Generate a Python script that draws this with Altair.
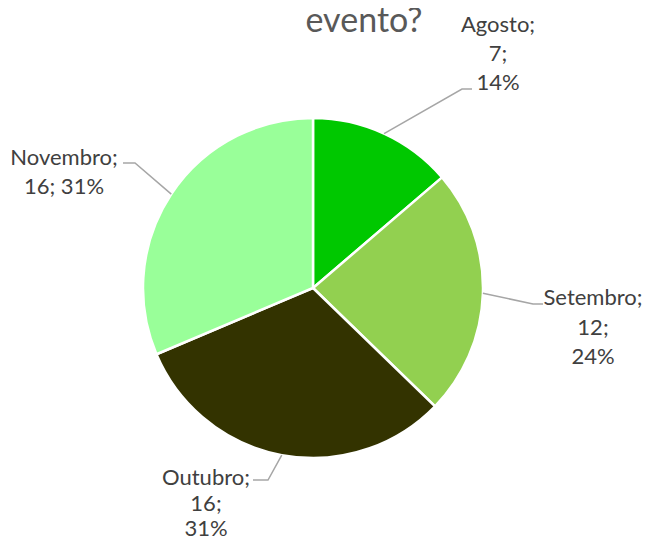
import math
import altair as alt
import pandas as pd

# ---- data ----
meses = ["Agosto", "Setembro", "Outubro", "Novembro"]
valores = [7, 12, 16, 16]
percentuais = [14, 24, 31, 31]
cores = ["#00C800", "#92D050", "#333300", "#99FF99"]
titulo = "evento?"

# ---- layout ----
W, H = 636, 530
CX, CY, R = 305, 280, 170
FONT = "Lato"
# elbow offsets from centre, horizontal tail, label centre offset from tail end, line height
layout = {
    "Agosto":   dict(elbow=(149, -199), tail=10, lab_dx=26, lab_dy=-64, lh=29, wrap=[0, 1, 2]),
    "Setembro": dict(elbow=(220, 16), tail=10, lab_dx=50, lab_dy=-6, lh=29.5, wrap=[0, 1, 2]),
    "Outubro":  dict(elbow=(-45, 192), tail=-15, lab_dx=-47, lab_dy=-2, lh=25.5, wrap=[0, 1, 2]),
    "Novembro": dict(elbow=(-178, -125), tail=-12, lab_dx=-59, lab_dy=-5, lh=29, wrap=[0, 1, 1]),
}

df = pd.DataFrame({"mes": meses, "valor": valores, "pct": percentuais,
                   "ordem": list(range(len(meses)))})

total = sum(valores)
lines_rows, text_rows = [], []
acc = 0
for m, v, p in zip(meses, valores, percentuais):
    mid = (acc + v / 2) / total * 2 * math.pi
    acc += v
    lay = layout[m]
    sx, sy = CX + R * math.sin(mid), CY - R * math.cos(mid)
    ex, ey = CX + lay["elbow"][0], CY + lay["elbow"][1]
    tx, ty = ex + lay["tail"], ey
    for i, (px, py) in enumerate([(sx, sy), (ex, ey), (tx, ty)]):
        lines_rows.append({"mes": m, "k": i, "x": px, "y": py})
    parts = [f"{m};", f"{v};", f"{p}%"]
    groups = {}
    for part, g in zip(parts, lay["wrap"]):
        groups.setdefault(g, []).append(part)
    for j, g in enumerate(sorted(groups)):
        text_rows.append({"mes": m, "txt": " ".join(groups[g]),
                          "x": tx + lay["lab_dx"], "y": ty + lay["lab_dy"] + j * lay["lh"]})

lines_df = pd.DataFrame(lines_rows)
text_df = pd.DataFrame(text_rows)

xs = alt.Scale(domain=[0, W], range=[0, W])
ys = alt.Scale(domain=[0, H], range=[0, H])

pie = alt.Chart(df).mark_arc(outerRadius=R, stroke="white", strokeWidth=2.5).encode(
    theta=alt.Theta("valor:Q", stack=True),
    order=alt.Order("ordem:Q"),
    color=alt.Color("mes:N", scale=alt.Scale(domain=meses, range=cores), legend=None),
    x=alt.value(CX), y=alt.value(CY),
)

leaders = alt.Chart(lines_df).mark_line(color="#A6A6A6", strokeWidth=1.5).encode(
    x=alt.X("x:Q", scale=xs, axis=None),
    y=alt.Y("y:Q", scale=ys, axis=None),
    detail="mes:N",
    order="k:Q",
)

labels = alt.Chart(text_df).mark_text(font=FONT, fontSize=22, color="#404040",
                                      align="center", baseline="middle").encode(
    x=alt.X("x:Q", scale=xs, axis=None),
    y=alt.Y("y:Q", scale=ys, axis=None),
    text="txt:N",
)

title = alt.Chart(pd.DataFrame({"t": [titulo]})).mark_text(
    font=FONT, fontSize=34, color="#595959", align="center", baseline="middle"
).encode(x=alt.value(356), y=alt.value(14), text="t:N")

chart = alt.layer(pie, leaders, labels, title).properties(
    width=W, height=H, padding=0, autosize=alt.AutoSizeParams(type="none")
).configure_view(stroke=None)

chart.save("out.html", embed_options={"renderer": "svg", "actions": False})
